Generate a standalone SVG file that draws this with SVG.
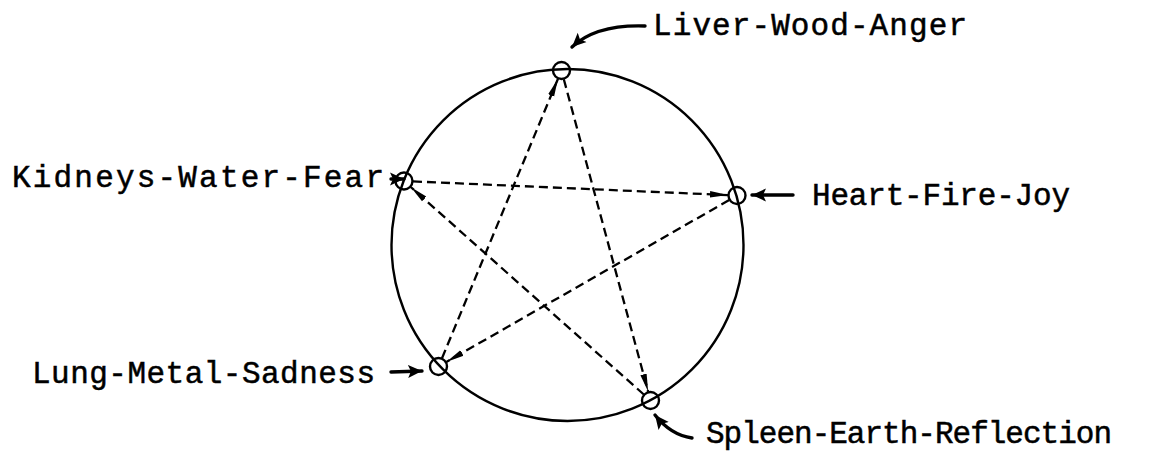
<svg xmlns="http://www.w3.org/2000/svg" width="1161" height="456" viewBox="0 0 1161 456">
<style>
.lbl{font-family:"Liberation Mono","Courier New",monospace;font-size:31px;fill:#000;stroke:#000;stroke-width:0.5;}
.ring{fill:none;stroke:#000;stroke-width:2.4;}
.node{fill:none;stroke:#000;stroke-width:2.4;}
.dash{fill:none;stroke:#000;stroke-width:2.3;stroke-dasharray:9 5;}
.ptr{fill:none;stroke:#000;stroke-width:3.4;stroke-linecap:round;}
</style>
<defs>
<marker id="ah" markerUnits="userSpaceOnUse" markerWidth="20" markerHeight="10" refX="18" refY="5" orient="auto" viewBox="0 0 20 10">
<path d="M0,1.8 L18,5 L0,8.2 Z" fill="#000"/>
</marker>
<marker id="ph" markerUnits="userSpaceOnUse" markerWidth="16" markerHeight="16" refX="14" refY="8" orient="auto" viewBox="0 0 16 16">
<path d="M0,1.5 L14,8 L0,14.5 L3,8 Z" fill="#000"/>
</marker>
</defs>
<circle class="ring" cx="567.5" cy="245" r="176"/>
<g id="connectors">
<line class="dash" x1="563.8" y1="79.2" x2="648.2" y2="391.8" marker-end="url(#ah)"/>
<line class="dash" x1="442" y1="358.2" x2="558" y2="78.8" marker-end="url(#ah)"/>
<line class="dash" x1="413" y1="181.4" x2="728" y2="195.1" marker-end="url(#ah)"/>
<line class="dash" x1="729.2" y1="200" x2="446.3" y2="362" marker-end="url(#ah)"/>
<line class="dash" x1="643.8" y1="394.5" x2="410.7" y2="187" marker-end="url(#ah)"/>
</g>
<g id="liver">
<circle class="node" cx="561.5" cy="70.5" r="8.5"/>
<path class="ptr" d="M645,26 C616,25 590,30 572,47" marker-end="url(#ph)"/>
<text class="lbl" x="653" y="35" textLength="314" lengthAdjust="spacing">Liver-Wood-Anger</text>
</g>
<g id="kidneys">
<circle class="node" cx="404" cy="181" r="8.5"/>
<path class="ptr" d="M391,179 L404,179" marker-end="url(#ph)"/>
<text class="lbl" x="12" y="187" textLength="372" lengthAdjust="spacing">Kidneys-Water-Fear</text>
</g>
<g id="heart">
<circle class="node" cx="737" cy="195.5" r="8.5"/>
<path class="ptr" d="M793,195 L752,195" marker-end="url(#ph)"/>
<text class="lbl" x="812" y="205" textLength="258" lengthAdjust="spacing">Heart-Fire-Joy</text>
</g>
<g id="lung">
<circle class="node" cx="438.5" cy="366.5" r="8.5"/>
<path class="ptr" d="M391,372 L422,371" marker-end="url(#ph)"/>
<text class="lbl" x="32" y="383" textLength="343" lengthAdjust="spacing">Lung-Metal-Sadness</text>
</g>
<g id="spleen">
<circle class="node" cx="650.5" cy="400.5" r="8.5"/>
<path class="ptr" d="M692,438 C678,436 666,429 655,415" marker-end="url(#ph)"/>
<text class="lbl" x="706" y="443" textLength="406" lengthAdjust="spacing">Spleen-Earth-Reflection</text>
</g>
</svg>
